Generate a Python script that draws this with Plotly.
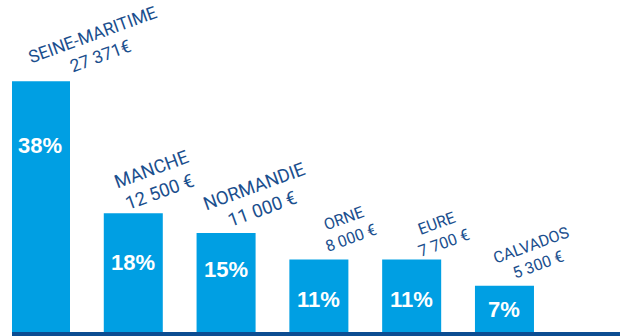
import plotly.graph_objects as go

# Répartition par département
departements = ["SEINE-MARITIME", "MANCHE", "NORMANDIE", "ORNE", "EURE", "CALVADOS"]
montants = ["27 371€", "12 500 €", "11 000 €", "8 000 €", "7 700 €", "5 300 €"]
parts = [38, 18, 15, 11, 11, 7]

# Styling / placement of the labels (pixels)
name_sizes = [17.5, 18.5, 18.5, 16, 16, 16]
label_dx = [56, 22, 32, 29, 29, 30]
label_dy = [36, 32, 35, 31, 26, 31]
pct_dy = [-64, -49, -37, -40, -40, -24]

BAR = "#009fe3"
DARK = "#1b4f8e"
LINE = "#0c4d92"

fig = go.Figure(
    go.Bar(
        x=departements,
        y=parts,
        marker=dict(color=BAR, line=dict(width=0)),
        hoverinfo="skip",
    )
)

annotations = []
for i, (dep, mnt, p) in enumerate(zip(departements, montants, parts)):
    annotations.append(
        dict(
            x=dep, y=p, xref="x", yref="y",
            text=f"{dep}<br>{mnt}",
            showarrow=False,
            textangle=-20,
            align="center",
            xanchor="center", yanchor="middle",
            xshift=label_dx[i], yshift=label_dy[i],
            font=dict(family="Roboto", size=name_sizes[i], color=DARK),
        )
    )
    annotations.append(
        dict(
            x=dep, y=p, xref="x", yref="y",
            text=f"<b>{p}%</b>",
            showarrow=False,
            xanchor="center", yanchor="middle",
            yshift=pct_dy[i],
            font=dict(family="Liberation Sans", size=22, color="white"),
        )
    )

fig.update_layout(
    width=620,
    height=336,
    margin=dict(l=12, r=0, t=0, b=4),
    paper_bgcolor="white",
    plot_bgcolor="white",
    bargap=0.364,
    showlegend=False,
    annotations=annotations,
    xaxis=dict(
        range=[-0.307, 6.245],
        showticklabels=False,
        showgrid=False,
        zeroline=False,
        ticks="",
        showline=True,
        linecolor=LINE,
        linewidth=4,
        fixedrange=True,
    ),
    yaxis=dict(
        range=[0, 50.3],
        showticklabels=False,
        showgrid=False,
        zeroline=False,
        ticks="",
        fixedrange=True,
    ),
)

fig.write_html("out.html", config={"displayModeBar": False})
